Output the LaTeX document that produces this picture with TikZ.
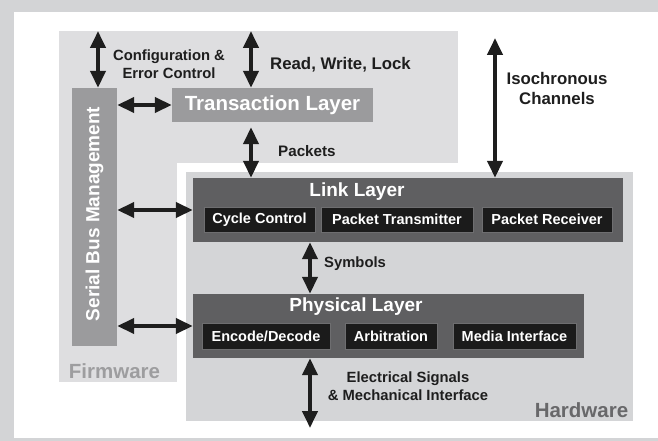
\documentclass[tikz,border=0pt]{standalone}
\usepackage{fontspec}
\setmainfont{Liberation Sans}
\usepackage{xcolor}
\usepackage{tikz}
\usetikzlibrary{arrows.meta}
\definecolor{frame}{HTML}{D3D4D6}
\definecolor{firm}{HTML}{DEDEE0}
\definecolor{hard}{HTML}{D4D5D7}
\definecolor{bar}{HTML}{9B9B9D}
\definecolor{layer}{HTML}{5F5F61}
\definecolor{block}{HTML}{1B1B1B}
\definecolor{blockrim}{HTML}{6E6E70}
\definecolor{ink}{HTML}{1E1E1E}
\definecolor{firmtxt}{HTML}{9D9D9F}
\definecolor{hardtxt}{HTML}{68686A}
\tikzset{
  sidebar/.style={fill=bar, inner sep=0pt},
  layerbox/.style={fill=layer, inner sep=0pt},
  blockbox/.style={fill=block, draw=blockrim, line width=0.7pt, text=white, inner sep=0pt,
    font=\fontsize{14.5}{16}\selectfont\bfseries},
  ttl/.style={text=white, font=\fontsize{19}{22}\selectfont\bfseries},
  lab/.style={text=ink, align=center, font=\fontsize{14.8}{18}\selectfont\bfseries},
  zone/.style={font=\fontsize{20.5}{24}\selectfont\bfseries},
  dbl/.style={{Triangle[length=17pt,width=15pt]}-{Triangle[length=17pt,width=15pt]},
    line width=4pt, draw=ink}
}

\begin{document}
\begin{tikzpicture}[x=1pt, y=-1pt]
  \useasboundingbox (0,0) rectangle (658,441);
  % frame and the two zones
  \fill[frame] (0,0) rectangle (658,441);
  \fill[white] (14,12) rectangle (658,438);
  \fill[firm] (59,31) rectangle (458,382);
  \filldraw[fill=hard, draw=white, line width=9pt] (181.5,167.5) rectangle (637.5,425.5);

  % blocks
  \node[sidebar, minimum width=45pt, minimum height=258pt] (sbm) at (94.5,217) {};
  \node[text=white, rotate=90, font=\fontsize{19}{22}\selectfont\bfseries] (sbmtxt) at (94.5,214) {Serial Bus Management};
  \node[sidebar, minimum width=201pt, minimum height=34pt, text=white,
    font=\fontsize{20.5}{24}\selectfont\bfseries] (trans) at (272.5,105) {Transaction Layer};

  \node[layerbox, minimum width=430pt, minimum height=64pt] (link) at (408,210) {};
  \node[ttl] (linkttl) at (357,192) {Link Layer};
  \node[blockbox, minimum width=111pt, minimum height=25pt] (cyc) at (259.5,219.5) {Cycle Control};
  \node[blockbox, minimum width=152pt, minimum height=25pt] (ptx) at (397,219.5) {Packet Transmitter};
  \node[blockbox, minimum width=130pt, minimum height=25pt] (prx) at (547,219.5) {Packet Receiver};

  \node[layerbox, minimum width=391pt, minimum height=64pt] (phy) at (388.5,326) {};
  \node[ttl] (phyttl) at (356,307) {Physical Layer};
  \node[blockbox, minimum width=128pt, minimum height=26pt] (enc) at (266,336) {Encode/Decode};
  \node[blockbox, minimum width=92pt, minimum height=26pt] (arb) at (391,336) {Arbitration};
  \node[blockbox, minimum width=123pt, minimum height=26pt] (med) at (514.5,336) {Media Interface};

  % free ends
  \coordinate (cfgtop) at (98,31);
  \coordinate (rwtop) at (251,31);
  \coordinate (isotop) at (495,38);
  \coordinate (phybot) at (310,428);

  % arrows
  \draw[dbl] (cfgtop) -- (cfgtop |- sbm.north);
  \draw[dbl] (rwtop) -- (rwtop |- trans.north);
  \draw[dbl, shorten <=5pt] (rwtop |- trans.south) -- (rwtop |- link.north);
  \draw[dbl] (isotop) -- (isotop |- link.north);
  \draw[dbl] (sbm.east |- trans.west) -- (trans.west);
  \draw[dbl] (sbm.east |- link.west) -- (link.west);
  \draw[dbl] (sbm.east |- phy.west) -- (phy.west);
  \draw[dbl] (phybot |- link.south) -- (phybot |- phy.north);
  \draw[dbl] (phybot |- phy.south) -- (phybot);

  % labels
  \node[lab] (cfglab) at (169,64) {Configuration \&\\Error Control};
  \node[lab, font=\fontsize{16.8}{20}\selectfont\bfseries] (rwlab) at (340.5,65) {Read, Write, Lock};
  \node[lab, anchor=west, inner sep=0pt, font=\fontsize{15.2}{18}\selectfont\bfseries] (pktlab) at (278,151) {Packets};
  \node[lab, font=\fontsize{16.8}{20}\selectfont\bfseries] (isolab) at (557,88) {Isochronous\\Channels};
  \node[lab, anchor=west, inner sep=0pt] (symlab) at (324,264) {Symbols};
  \node[lab] (elelab) at (408,386) {Electrical Signals\\\& Mechanical Interface};
  \node[zone, text=firmtxt] (firmlab) at (114.5,371) {Firmware};
  \node[zone, text=hardtxt] (hardlab) at (581.5,410) {Hardware};
\end{tikzpicture}
\end{document}
